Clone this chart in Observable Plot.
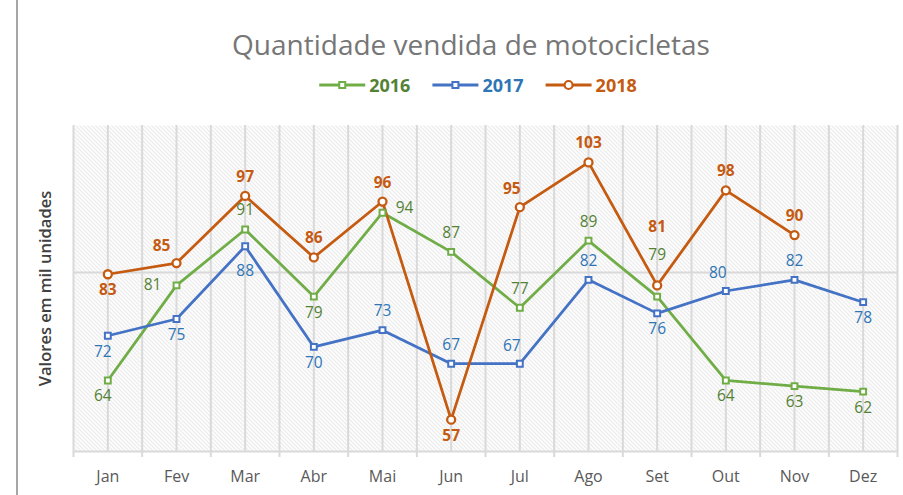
<!DOCTYPE html>
<html>
<head>
<meta charset="utf-8">
<script src="https://cdn.jsdelivr.net/npm/d3@7"></script>
<script src="https://cdn.jsdelivr.net/npm/@observablehq/plot@0.6"></script>
<style>
  body { margin: 0; background: #fff; }
  #wrap { position: relative; width: 903px; height: 495px; overflow: hidden; font-family: "Open Sans", sans-serif; background: #fff; }
  #border { position: absolute; left: 16px; top: 0; width: 2px; height: 495px; background: #a6a6a6; }
  #header { display: block; }
  #chart svg { display: block; }
</style>
</head>
<body>
<div id="wrap">
  <div id="border"></div>
  <svg id="header" width="903" height="110"></svg>
  <div id="chart"></div>
</div>
<script>
// ---- Data ----
const title = "Quantidade vendida de motocicletas";
const yTitle = "Valores em mil unidades";
const months = ["Jan", "Fev", "Mar", "Abr", "Mai", "Jun", "Jul", "Ago", "Set", "Out", "Nov", "Dez"];
const seriesNames = ["2016", "2017", "2018"];
const values2016 = [64, 81, 91, 79, 94, 87, 77, 89, 79, 64, 63, 62];
const values2017 = [72, 75, 88, 70, 73, 67, 67, 82, 76, 80, 82, 78];
const values2018 = [83, 85, 97, 86, 96, 57, 95, 103, 81, 98, 90];
const yDomain = [51.3, 109.6];
const yGrid = [83.3];

// ---- Label placement (style) ----
const place2016 = ["belowL", "left", "above", "below", "right", "above", "above", "above", "high", "below", "below", "below"];
const place2017 = ["belowL", "below", "below2", "below", "above", "above", "aboveL", "above", "below", "aboveL", "above", "below"];
const place2018 = ["below", "aboveL2", "above", "above", "above", "below", "aboveL", "above", "higher", "above", "above"];
const offsets = {
  above: [0, -19], below: [0, 16], belowL: [-5, 16], below2: [0, 25], left: [-24, 0], right: [22, -5],
  aboveL: [-8, -18], aboveL2: [-15, -17], high: [0, -42], higher: [0, -58]
};

const styles = {
  "2016": { line: "#70ad47", label: "#548235", symbol: "square", weight: "normal" },
  "2017": { line: "#4472c4", label: "#2e75b6", symbol: "square", weight: "normal" },
  "2018": { line: "#c55a11", label: "#c55a11", symbol: "circle", weight: "bold" }
};

const seriesValues = [values2016, values2017, values2018];
const seriesPlace = [place2016, place2017, place2018];
const rows = seriesNames.map((s, k) => seriesValues[k].map((v, i) => ({ series: s, i, month: months[i], value: v, pos: seriesPlace[k][i] })));

// ---- Header (title + legend) ----
const header = d3.select("#header");
const defs = header.append("defs");
const pat = defs.append("pattern").attr("id", "hatch").attr("patternUnits", "userSpaceOnUse")
  .attr("width", 4).attr("height", 4);
pat.append("rect").attr("width", 4).attr("height", 4).attr("fill", "#ffffff");
pat.append("path").attr("d", "M-1,-1 L5,5 M-1,3 L1,5 M3,-1 L5,1")
  .attr("stroke", "#dadada").attr("stroke-width", 1);

header.append("text").text(title)
  .attr("x", 471).attr("y", 55).attr("text-anchor", "middle")
  .attr("font-size", 28).attr("fill", "#767676").attr("font-family", "'Open Sans', sans-serif");

const legend = header.append("g");
let lx = 0;
seriesNames.forEach((s) => {
  const st = styles[s];
  const g = legend.append("g").attr("transform", `translate(${lx},0)`);
  g.append("line").attr("x1", 0).attr("x2", 46).attr("y1", 85).attr("y2", 85)
    .attr("stroke", st.line).attr("stroke-width", 3);
  if (st.symbol === "circle") {
    g.append("circle").attr("cx", 23).attr("cy", 85).attr("r", 4).attr("fill", "#fff")
      .attr("stroke", st.line).attr("stroke-width", 2.2);
  } else {
    g.append("rect").attr("x", 20).attr("y", 82).attr("width", 6).attr("height", 6).attr("fill", "#fff")
      .attr("stroke", st.line).attr("stroke-width", 2);
  }
  const t = g.append("text").text(s).attr("x", 50).attr("y", 91.5)
    .attr("font-size", 18).attr("font-weight", "bold").attr("fill", st.label)
    .attr("font-family", "'Open Sans', sans-serif");
  const w = t.node().getComputedTextLength();
  lx += 50 + w + 22;
});
const legendWidth = lx - 22;
legend.attr("transform", `translate(${478 - legendWidth / 2},0)`);

// ---- Plot ----
const marginTop = 15, marginBottom = 44, svgHeight = 385;
const plotHeight = svgHeight - marginTop - marginBottom;
const tickLen = (yDomain[1] - yDomain[0]) * 6 / plotHeight;
const centers = d3.range(months.length);
const boundaries = d3.range(months.length + 1).map(k => k - 0.5);

const marks = [
  Plot.frame({ fill: "url(#hatch)" }),
  Plot.ruleX(centers.concat(boundaries), { stroke: "#d9d9d9", strokeWidth: 2 }),
  Plot.ruleY(yGrid, { stroke: "#d9d9d9", strokeWidth: 2 }),
  Plot.ruleY([yDomain[0]], { stroke: "#d9d9d9", strokeWidth: 2 }),
  Plot.ruleX(boundaries, { y1: yDomain[0], y2: yDomain[0] - tickLen, stroke: "#d9d9d9", strokeWidth: 2 }),
  Plot.text(months, { x: (d, i) => i, text: d => d, frameAnchor: "bottom", lineAnchor: "middle", dy: 25,
    fill: "#595959", fontSize: 16, fontFamily: "'Open Sans', sans-serif" }),
  Plot.text([yTitle], { frameAnchor: "left", textAnchor: "middle", rotate: -90, dx: -28,
    fill: "#404040", fontSize: 16.5, fontWeight: 600, fontFamily: "'Open Sans', sans-serif" })
];

rows.forEach((data, k) => {
  const st = styles[seriesNames[k]];
  marks.push(Plot.line(data, { x: "i", y: "value", stroke: st.line, strokeWidth: 2.75 }));
});
rows.forEach((data, k) => {
  const st = styles[seriesNames[k]];
  if (st.symbol === "circle") {
    marks.push(Plot.dot(data, { x: "i", y: "value", r: 4, fill: "#fff", stroke: st.line, strokeWidth: 2.3 }));
  } else {
    marks.push(Plot.dot(data, { x: "i", y: "value", symbol: "square", r: 3.3, fill: "#fff", stroke: st.line, strokeWidth: 2 }));
  }
});
rows.forEach((data, k) => {
  const st = styles[seriesNames[k]];
  Object.keys(offsets).forEach(p => {
    const sub = data.filter(d => d.pos === p);
    if (!sub.length) return;
    marks.push(Plot.text(sub, { x: "i", y: "value", text: d => String(d.value),
      dx: offsets[p][0], dy: offsets[p][1], fill: st.label, fontSize: 15.5, fontWeight: st.weight,
      fontFamily: "'Open Sans', sans-serif" }));
  });
});

const chart = Plot.plot({
  width: 903,
  height: svgHeight,
  marginLeft: 73,
  marginRight: 6,
  marginTop,
  marginBottom,
  x: { domain: [boundaries[0], boundaries[boundaries.length - 1]], axis: null },
  y: { domain: yDomain, axis: null },
  style: { background: "transparent", fontFamily: "'Open Sans', sans-serif" },
  marks
});
document.getElementById("chart").appendChild(chart);
</script>
</body>
</html>
